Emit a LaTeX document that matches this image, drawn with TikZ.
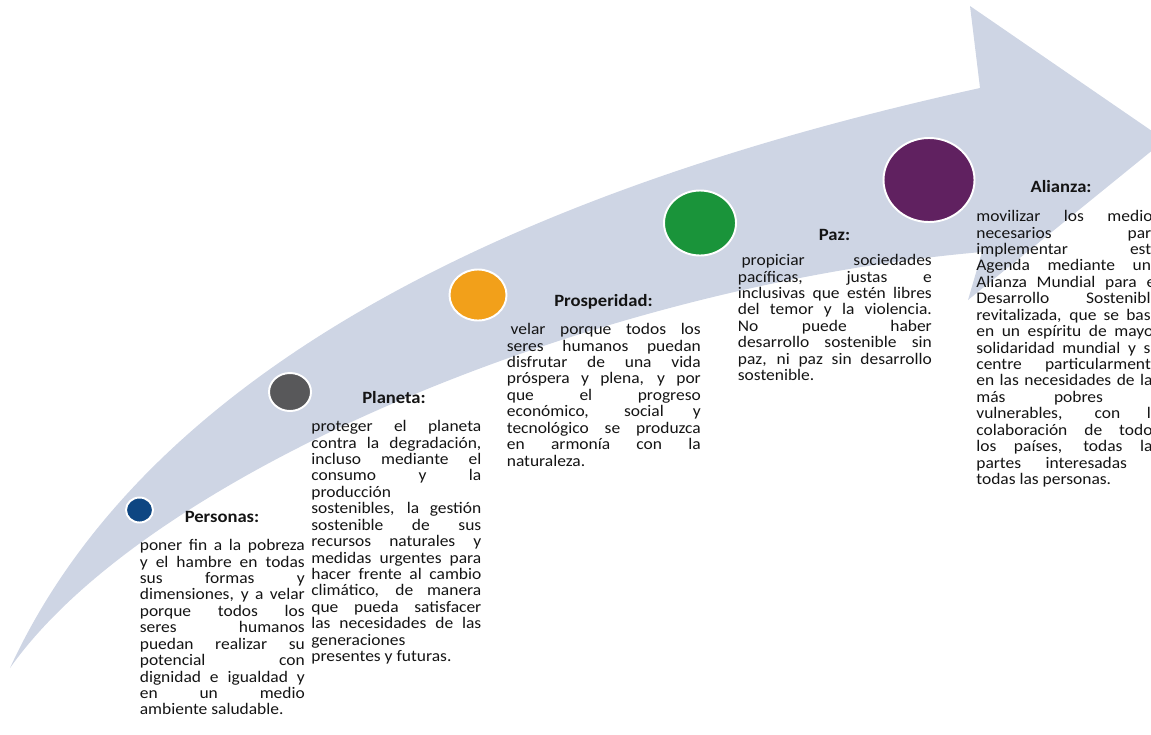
\documentclass[tikz,border=0pt]{standalone}
\usepackage{fontspec}
\setmainfont{Carlito}[FakeStretch=1.08]
\usetikzlibrary{shapes.geometric}

\definecolor{bandgray}{RGB}{206,213,228}
\definecolor{cPers}{RGB}{14,70,130}
\definecolor{cPlan}{RGB}{88,88,90}
\definecolor{cProsp}{RGB}{242,160,26}
\definecolor{cPaz}{RGB}{26,148,58}
\definecolor{cAli}{RGB}{96,33,96}
\definecolor{txt}{RGB}{20,20,20}

\newcommand{\txtsize}{\fontsize{9.2pt}{9.35pt}\selectfont}
\newcommand{\headsize}{\fontsize{9.8pt}{10pt}\selectfont}

\tikzset{
  dot/.style={ellipse,draw=white,line width=1.1pt,inner sep=0pt},
  heading/.style={font=\headsize\bfseries,text=txt,anchor=base,inner sep=0pt},
  body/.style={font=\txtsize,text=txt,align=justify,anchor=base west,inner sep=0pt,
    execute at begin node={\tolerance=10000\hbadness=10000\hyphenpenalty=10000}}
}

\begin{document}
\begin{tikzpicture}[x=0.02cm,y=-0.02cm]
    \useasboundingbox (0,0) rectangle (1151,734);

    % Curved arrow in the background
    \fill[bandgray] (10,668) .. controls (170,320) and (630,165) .. (980,88)
        -- (970,6) -- (1165,140) -- (968,300) -- (982,252)
        .. controls (600,285) and (150,470) .. (10,668) -- cycle;

    % Coloured dots along the arrow
    \foreach \n/\px/\py/\w/\h/\c in {pers/139.5/510/27/25/cPers,
                                     plan/290/392/42/38/cPlan,
                                     prosp/478/295/57/51/cProsp,
                                     paz/700/223/72/65/cPaz,
                                     ali/929/180/91/84/cAli} {
        \node[dot,fill=\c,minimum width=\w*0.02cm,minimum height=\h*0.02cm] (\n) at (\px,\py) {};
    }

    % Personas
    \node[heading] (persT) at (222,522.5) {Personas:};
    \node[body,text width=3.30cm] (persB) at (139.5,550.6) {poner fin a la pobreza\linebreak
        y el hambre en todas\linebreak
        sus formas y\linebreak
        dimensiones, y a velar\linebreak
        porque todos los\linebreak
        seres humanos\linebreak
        puedan realizar su\linebreak
        potencial con\linebreak
        dignidad e igualdad y\linebreak
        en un medio\linebreak
        ambiente saludable.};

    % Planeta
    \node[heading] (planT) at (394,403.5) {Planeta:};
    \node[body,text width=3.40cm] (planB) at (311,431.6) {proteger el planeta\linebreak
        contra la degradación,\linebreak
        incluso mediante el\linebreak
        consumo y la\linebreak
        producción\linebreak
        sostenibles, la gestión\linebreak
        sostenible de sus\linebreak
        recursos naturales y\linebreak
        medidas urgentes para\linebreak
        hacer frente al cambio\linebreak
        climático, de manera\linebreak
        que pueda satisfacer\linebreak
        las necesidades de las\linebreak
        generaciones\linebreak
        presentes y futuras.};

    % Prosperidad
    \node[heading] (prospT) at (603.5,306.5) {Prosperidad:};
    \node[body,text width=3.88cm] (prospB) at (506.5,334.6) {\hspace*{.23em}velar porque todos los\linebreak
        seres humanos puedan\linebreak
        disfrutar de una vida\linebreak
        próspera y plena, y por\linebreak
        que el progreso\linebreak
        económico, social y\linebreak
        tecnológico se produzca\linebreak
        en armonía con la\linebreak
        naturaleza.};

    % Paz
    \node[heading] (pazT) at (834.5,240.5) {Paz:};
    \node[body,text width=3.88cm] (pazB) at (737.5,265.6) {\hspace*{.23em}propiciar sociedades\linebreak
        pacíficas, justas e\linebreak
        inclusivas que estén libres\linebreak
        del temor y la violencia.\linebreak
        No puede haber\linebreak
        desarrollo sostenible sin\linebreak
        paz, ni paz sin desarrollo\linebreak
        sostenible.};

    % Alianza
    \node[heading] (aliT) at (1061,192.5) {Alianza:};
    \node[body,text width=3.66cm] (aliB) at (976,221.6) {movilizar los medios\linebreak
        necesarios para\linebreak
        implementar esta\linebreak
        Agenda mediante una\linebreak
        Alianza Mundial para el\linebreak
        Desarrollo Sostenible\linebreak
        revitalizada, que se base\linebreak
        en un espíritu de mayor\linebreak
        solidaridad mundial y se\linebreak
        centre particularmente\linebreak
        en las necesidades de las\linebreak
        más pobres y\linebreak
        vulnerables, con la\linebreak
        colaboración de todos\linebreak
        los países, todas las\linebreak
        partes interesadas y\linebreak
        todas las personas.};
\end{tikzpicture}
\end{document}
